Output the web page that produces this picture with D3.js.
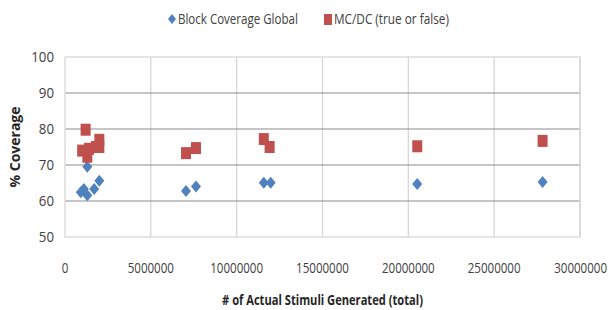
<!DOCTYPE html>
<html>
<head>
<meta charset="utf-8">
<script src="https://cdn.jsdelivr.net/npm/d3@7"></script>
<style>
  body { margin: 0; background: #fff; }
  svg text { font-family: "Open Sans", sans-serif; fill: #404040; }
</style>
</head>
<body>
<div id="vis"></div>
<script>
// stimuli counts and coverage values
const blockX = [920000, 1100000, 1300000, 1300000, 1700000, 2000000, 7050000, 7630000, 11580000, 11980000, 20520000, 27820000];
const blockY = [62.4, 63.3, 61.6, 69.5, 63.3, 65.6, 62.8, 64.0, 65.1, 65.1, 64.7, 65.3];
const mcdcX = [1000000, 1200000, 1300000, 1400000, 1800000, 2000000, 2000000, 7050000, 7630000, 11580000, 11920000, 20520000, 27820000];
const mcdcY = [74.0, 79.8, 72.3, 74.5, 75.0, 77.0, 75.0, 73.3, 74.7, 77.2, 75.0, 75.2, 76.7];
const xTicks = [0, 5000000, 10000000, 15000000, 20000000, 25000000, 30000000];
const yTicks = [50, 60, 70, 80, 90, 100];
const seriesNames = ["Block Coverage Global", "MC/DC (true or false)"];
const colors = ["#4f81bd", "#c0504d"];

const width = 610, height = 310;
const margin = { top: 57, right: 30, bottom: 73, left: 65 };

const svg = d3.select("#vis").append("svg")
  .attr("width", width)
  .attr("height", height);

const x = d3.scaleLinear()
  .domain([0, 30000000])
  .range([margin.left, width - margin.right]);
const y = d3.scaleLinear()
  .domain([50, 100])
  .range([height - margin.bottom, margin.top]);

// the original font is a condensed one: squeeze each text horizontally
// around its anchor point until it has the original's width
function squeeze(sel, w) {
  sel.each(function (d) {
    const t = d3.select(this);
    const target = typeof w === "function" ? w(d) : w;
    const s = Math.min(1, target / this.getComputedTextLength());
    const ax = +t.attr("x") || 0, ay = +t.attr("y") || 0;
    const prev = t.attr("transform") || "";
    t.attr("transform", `${prev} translate(${ax},${ay}) scale(${s},1) translate(${-ax},${-ay})`);
  });
}

// vertical gridlines (light)
svg.append("g")
  .selectAll("line")
  .data(xTicks.slice(1))
  .join("line")
  .attr("x1", (d) => x(d)).attr("x2", (d) => x(d))
  .attr("y1", y(100)).attr("y2", y(50))
  .attr("stroke", "#d4d4d4")
  .attr("stroke-width", 1.2);

// horizontal gridlines (darker)
svg.append("g")
  .selectAll("line")
  .data(yTicks.slice(1, -1))
  .join("line")
  .attr("x1", x(0)).attr("x2", x(30000000))
  .attr("y1", (d) => y(d)).attr("y2", (d) => y(d))
  .attr("stroke", "#8c8c8c")
  .attr("stroke-width", 1);

// plot border
svg.append("rect")
  .attr("x", x(0)).attr("y", y(100))
  .attr("width", x(30000000) - x(0))
  .attr("height", y(50) - y(100))
  .attr("fill", "none")
  .attr("stroke", "#d4d4d4")
  .attr("stroke-width", 1.2);

// tick labels
svg.append("g")
  .attr("font-size", 15)
  .attr("text-anchor", "end")
  .selectAll("text")
  .data(yTicks)
  .join("text")
  .attr("x", x(0) - 11)
  .attr("y", (d) => y(d))
  .attr("dy", "0.35em")
  .text((d) => d)
  .call(squeeze, (d) => String(d).length * 7.6);

// last x label sits against the right edge, as in the original
const lastTick = xTicks[xTicks.length - 1];
svg.append("g")
  .attr("font-size", 15)
  .selectAll("text")
  .data(xTicks)
  .join("text")
  .attr("x", (d) => d === lastTick ? width - 3 : x(d))
  .attr("text-anchor", (d) => d === lastTick ? "end" : "middle")
  .attr("y", 273)
  .text((d) => d)
  .call(squeeze, (d) => String(d).length * 6.6);

// axis titles
svg.append("text")
  .attr("x", (x(0) + x(30000000)) / 2)
  .attr("y", 305)
  .attr("text-anchor", "middle")
  .attr("font-size", 15)
  .attr("font-weight", "bold")
  .style("fill", "#262626")
  .text("# of Actual Stimuli Generated (total)")
  .call(squeeze, 201);

svg.append("text")
  .attr("transform", `translate(20,${(y(50) + y(100)) / 2}) rotate(-90)`)
  .attr("text-anchor", "middle")
  .attr("font-size", 14)
  .attr("font-weight", "bold")
  .style("fill", "#262626")
  .text("% Coverage")
  .call(squeeze, 87);

// points
const diamond = "M0,-6L5,0L0,6L-5,0Z";

svg.append("g")
  .selectAll("path")
  .data(blockX.map((d, i) => [d, blockY[i]]))
  .join("path")
  .attr("transform", (d) => `translate(${x(d[0])},${y(d[1])})`)
  .attr("d", diamond)
  .attr("fill", colors[0]);

svg.append("g")
  .selectAll("rect")
  .data(mcdcX.map((d, i) => [d, mcdcY[i]]))
  .join("rect")
  .attr("x", (d) => x(d[0]) - 5)
  .attr("y", (d) => y(d[1]) - 6)
  .attr("width", 10)
  .attr("height", 12)
  .attr("fill", colors[1]);

// legend
const legend = svg.append("g").attr("font-size", 15);
legend.append("path")
  .attr("transform", "translate(172,19)")
  .attr("d", "M0,-5L4,0L0,5L-4,0Z")
  .attr("fill", colors[0]);
legend.append("text")
  .attr("x", 178).attr("y", 19).attr("dy", "0.35em")
  .text(seriesNames[0])
  .call(squeeze, 120);
legend.append("rect")
  .attr("x", 324).attr("y", 14)
  .attr("width", 8).attr("height", 11)
  .attr("fill", colors[1]);
legend.append("text")
  .attr("x", 334).attr("y", 19).attr("dy", "0.35em")
  .text(seriesNames[1])
  .call(squeeze, 115);
</script>
</body>
</html>
